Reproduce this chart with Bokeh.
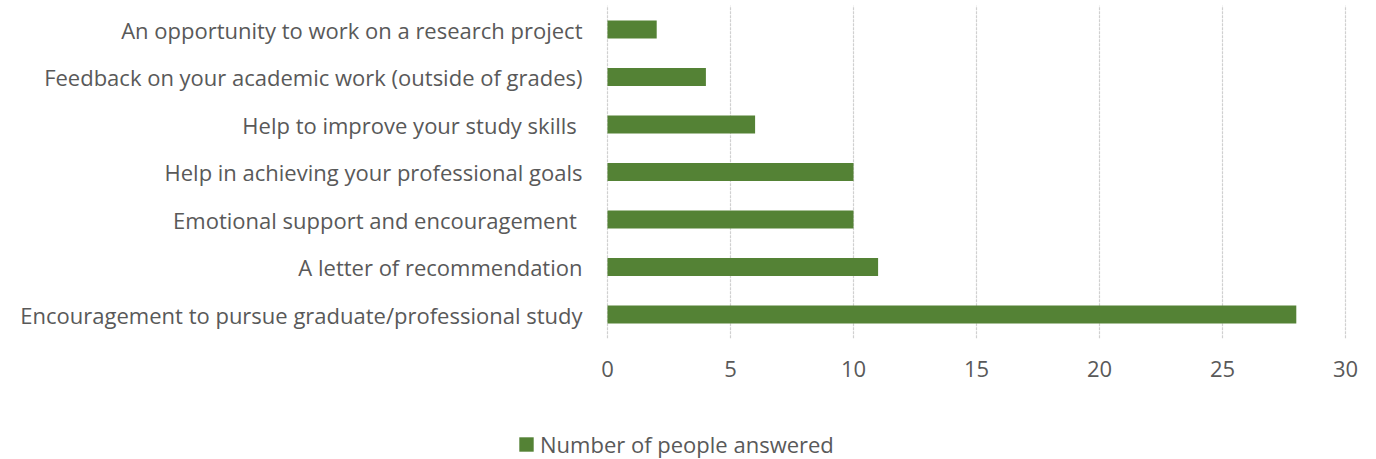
from bokeh.plotting import figure
from bokeh.models import (ColumnDataSource, Legend, LegendItem, FixedTicker,
                          LinearAxis, Range1d)
from bokeh.embed import file_html
from bokeh.resources import INLINE

categories = [
    "An opportunity to work on a research project",
    "Feedback on your academic work (outside of grades)",
    "Help to improve your study skills ",
    "Help in achieving your professional goals",
    "Emotional support and encouragement ",
    "A letter of recommendation",
    "Encouragement to pursue graduate/professional study",
]
values = [2, 4, 6, 10, 10, 11, 28]
series_name = "Number of people answered"
x_ticks = [0, 5, 10, 15, 20, 25, 30]

FONT = "Open Sans"
GREY = "#595959"
GREEN = "#548235"

W, H = 1376, 459
n = len(categories)
# positions: top category drawn at the top
ypos = [n - 1 - i for i in range(n)]
source = ColumnDataSource(data=dict(cat=categories, val=values, y=ypos))

# layout geometry (pixels)
px0, px1 = 607, 1345          # x=0 and x=30 in pixels
step = 47.5                   # pixels per category
top_center = 29               # pixel y of the top category centre
ppu = (px1 - px0) / (x_ticks[-1] - x_ticks[0])
x_start = x_ticks[0] - px0 / ppu
x_end = x_ticks[-1] + (W - px1) / ppu
y_end = (n - 1) + top_center / step
y_start = y_end - H / step

p = figure(
    width=W, height=H,
    x_range=Range1d(x_start, x_end), y_range=Range1d(y_start, y_end),
    x_axis_location=None, y_axis_location=None,
    output_backend="svg", toolbar_location=None,
    min_border=0,
)
p.outline_line_color = None
p.background_fill_color = "white"
p.border_fill_color = "white"
p.grid.visible = False

# vertical gridlines over the category area
p.segment(x0=x_ticks, x1=x_ticks, y0=[-0.5] * len(x_ticks), y1=[n - 0.5] * len(x_ticks),
          line_color="#d0d0d0", line_width=1.2, line_dash="3 1")

r = p.hbar(y="y", right="val", left=0, height=0.38, source=source,
           fill_color=GREEN, line_color=None)

xaxis = LinearAxis(fixed_location=-0.5, ticker=FixedTicker(ticks=x_ticks))
xaxis.axis_line_color = None
xaxis.major_tick_line_color = None
xaxis.minor_tick_line_color = None
xaxis.major_tick_out = 0
xaxis.major_tick_in = 0
xaxis.major_label_text_font = FONT
xaxis.major_label_text_font_size = "22px"
xaxis.major_label_text_color = GREY
xaxis.major_label_standoff = 23
p.add_layout(xaxis, "below")

yaxis = LinearAxis(fixed_location=0, ticker=FixedTicker(ticks=ypos),
                   major_label_overrides={y: c for y, c in zip(ypos, categories)})
yaxis.axis_line_color = None
yaxis.major_tick_line_color = None
yaxis.minor_tick_line_color = None
yaxis.major_tick_out = 0
yaxis.major_tick_in = 0
yaxis.major_label_text_font = FONT
yaxis.major_label_text_font_size = "22px"
yaxis.major_label_text_color = GREY
yaxis.major_label_standoff = 25
p.add_layout(yaxis, "left")

legend = Legend(
    items=[LegendItem(label=series_name, renderers=[r])],
    location=(517, 0),
    orientation="horizontal",
    padding=0, margin=0, spacing=0,
    glyph_width=18, glyph_height=18, label_standoff=5,
    label_text_font=FONT, label_text_font_size="22px", label_text_color=GREY,
    border_line_color=None, background_fill_alpha=0,
)
p.add_layout(legend, "center")

open("out.html", "w").write(file_html(p, INLINE))
